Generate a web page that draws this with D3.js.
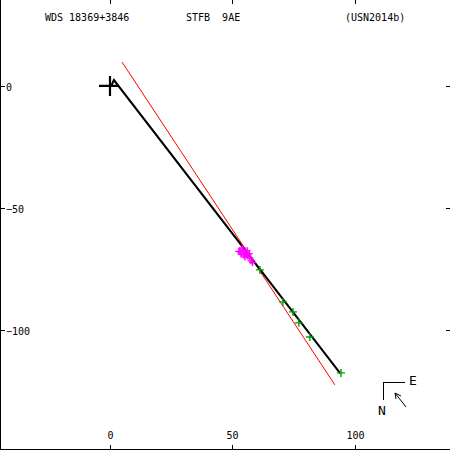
<!DOCTYPE html>
<html lang="en">
<head>
<meta charset="utf-8">
<title>WDS 18369+3846</title>
<script src="https://cdn.jsdelivr.net/npm/d3@7"></script>
<style>
  * { margin: 0; padding: 0; }
  body { background: #fff; }
  svg { display: block; font-family: "DejaVu Sans Mono", monospace; font-size: 10px; }
</style>
</head>
<body>
<svg id="chart" width="450" height="450"></svg>
<script>
// measurements (east offset, north offset)
const earlyObs = [
  [53.1, -68.0], [54.3, -67.2], [55.5, -68.4], [56.3, -69.7], [54.7, -69.3],
  [57.1, -70.5], [53.5, -68.9], [56.0, -67.6], [57.6, -71.7], [55.1, -70.1],
  [52.6, -67.8], [55.9, -69.0], [54.0, -66.4], [56.8, -68.8], [58.2, -72.4]
];
const recentObs = [
  [61.2, -75.4], [70.6, -88.5], [74.7, -92.6], [77.1, -97.1], [81.6, -102.9], [94.3, -117.6]
];
const motionPath = [[0.6, 0.2], [1.6, 2.4], [94.0, -117.8]];
const fitLine = [[4.9, 9.8], [91.8, -122.5]];
const xTicks = [0, 50, 100];
const yTicks = [0, -50, -100];
const titleParts = ["WDS 18369+3846", "STFB  9AE", "(USN2014b)"];

const W = 450, H = 450;
const svg = d3.select("#chart");
const x = d3.scaleLinear().domain([-44.9, 138.8]).range([0, W]);
const y = d3.scaleLinear().domain([35.2, -149.2]).range([0, H]);

// frame
svg.append("path")
  .attr("d", `M0.5,0 V${H - 0.5} H${W}`)
  .attr("fill", "none").attr("stroke", "#000").attr("stroke-width", 1)
  .attr("shape-rendering", "crispEdges");

const ticks = svg.append("g").attr("stroke", "#000").attr("shape-rendering", "crispEdges");
xTicks.forEach(t => {
  const px = Math.round(x(t)) + 0.5;
  ticks.append("line").attr("x1", px).attr("x2", px).attr("y1", 0).attr("y2", 4);
  ticks.append("line").attr("x1", px).attr("x2", px).attr("y1", H - 5).attr("y2", H);
  svg.append("text").attr("x", px).attr("y", H - 11).attr("text-anchor", "middle").text(t);
});
yTicks.forEach(t => {
  const py = Math.round(y(t)) + 0.5;
  ticks.append("line").attr("x1", 0).attr("x2", 5).attr("y1", py).attr("y2", py);
  ticks.append("line").attr("x1", W - 4).attr("x2", W).attr("y1", py).attr("y2", py);
  svg.append("text").attr("x", 6).attr("y", py + 4).text(t === 0 ? "0" : "\u2212" + Math.abs(t));
});

// title
svg.append("text").attr("x", 45).attr("y", 21).text(titleParts[0]);
svg.append("text").attr("x", 186).attr("y", 21).style("white-space", "pre").text(titleParts[1]);
svg.append("text").attr("x", 345).attr("y", 21).text(titleParts[2]);

const line = d3.line().x(d => x(d[0])).y(d => y(d[1]));

// linear fit
svg.append("path").attr("d", line(fitLine))
  .attr("fill", "none").attr("stroke", "#ff0000").attr("stroke-width", 1);

// primary
const cx = x(0), cy = y(0);
svg.append("path")
  .attr("d", `M${cx - 11},${cy} H${cx + 9} M${cx},${cy - 10} V${cy + 10}`)
  .attr("stroke", "#000").attr("stroke-width", 2.2);

// black trail
svg.append("path").attr("d", line(motionPath))
  .attr("fill", "none").attr("stroke", "#000").attr("stroke-width", 2);

function plus(g, data, color, r) {
  g.selectAll("path").data(data).join("path")
    .attr("d", d => `M${x(d[0]) - r},${y(d[1])} H${x(d[0]) + r} M${x(d[0])},${y(d[1]) - r} V${y(d[1]) + r}`)
    .attr("stroke", color).attr("stroke-width", 1.4).attr("fill", "none");
}
plus(svg.append("g"), earlyObs, "#ff00ff", 3.5);
plus(svg.append("g"), recentObs, "#00a000", 4);

// compass
const comp = svg.append("g").attr("stroke", "#000").attr("fill", "none");
comp.append("path").attr("d", "M383.5,400 V382.5 H405").attr("shape-rendering", "crispEdges");
comp.append("path").attr("d", "M406,407 L395,393 M395,393 L396,399 M395,393 L401,396");
svg.append("text").attr("x", 409).attr("y", 385).style("font-size", "13px").text("E");
svg.append("text").attr("x", 378).attr("y", 415).style("font-size", "13px").text("N");
</script>
</body>
</html>
